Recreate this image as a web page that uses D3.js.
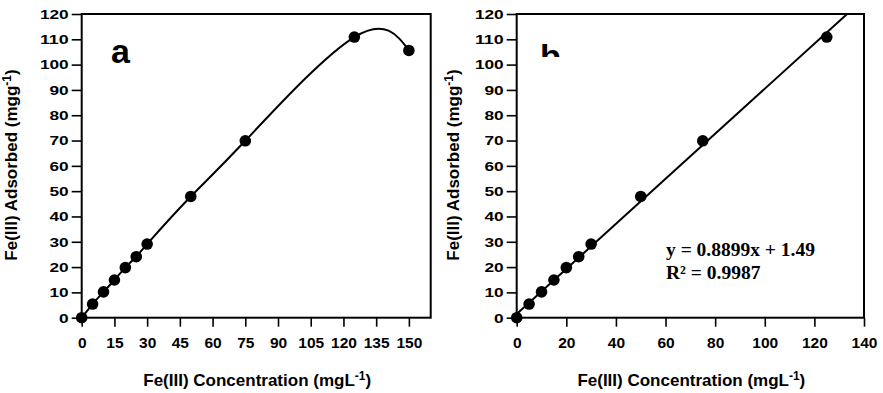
<!DOCTYPE html>
<html>
<head>
<meta charset="utf-8">
<script src="https://cdn.jsdelivr.net/npm/d3@7"></script>
<style>
  body { margin: 0; background: #fff; }
  svg { display: block; font-family: Arial, "Liberation Sans", sans-serif; }
</style>
</head>
<body>
<svg id="chart" width="883" height="393"></svg>
<script>
// data
const conc = [0, 5, 10, 15, 20, 25, 30, 50, 75, 125, 150];
const adsorbed = [0, 5.4, 10.2, 14.9, 19.8, 24.1, 29.1, 47.9, 69.9, 110.9, 105.6];
const concB = [0, 5, 10, 15, 20, 25, 30, 50, 75, 125];
const adsorbedB = [0, 5.4, 10.2, 14.9, 19.8, 24.1, 29.1, 47.9, 69.9, 110.9];
const yTicks = [0, 10, 20, 30, 40, 50, 60, 70, 80, 90, 100, 110, 120];
const xTicksA = [0, 15, 30, 45, 60, 75, 90, 105, 120, 135, 150];
const xTicksB = [0, 20, 40, 60, 80, 100, 120, 140];
const fitSlope = 0.8899, fitIntercept = 1.49;
const fitRange = [0, 133.2];

const svg = d3.select('#chart');

function panel(cfg) {
  let x = d3.scaleLinear().domain(cfg.xDomain).range([cfg.left, cfg.right]);
  let y = d3.scaleLinear().domain([0, 120]).range([317.7, 14]);
  let g = svg.append('g');

  // y axis
  let yAxis = d3.axisLeft(y).tickValues(yTicks).tickSize(10).tickSizeOuter(0).tickPadding(3);
  let yG = g.append('g').attr('transform', `translate(${cfg.left},0)`).call(yAxis);
  yG.selectAll('text')
    .style('font-size', '13.5px').style('font-weight', 'bold').attr('fill', '#000')
    .attr('textLength', d => String(d).length * 9.6)
    .attr('lengthAdjust', 'spacingAndGlyphs');

  // x axis
  let xAxis = d3.axisBottom(x).tickValues(cfg.xTicks).tickSize(9).tickSizeOuter(0).tickPadding(10);
  let xG = g.append('g').attr('transform', 'translate(0,317.7)').call(xAxis);
  xG.selectAll('text').style('font-size', '15.5px').style('font-weight', 'bold').attr('fill', '#000');

  g.selectAll('.domain').remove();
  g.selectAll('.tick line').attr('stroke', '#000').attr('stroke-width', 1.6);

  // frame
  g.append('rect')
    .attr('x', cfg.left).attr('y', 14)
    .attr('width', cfg.right - cfg.left).attr('height', 317.7 - 14)
    .attr('fill', 'none').attr('stroke', '#000').attr('stroke-width', 2);

  // titles
  let xt = g.append('text')
    .attr('x', (cfg.left + cfg.right) / 2 + 1).attr('y', 386)
    .attr('text-anchor', 'middle')
    .style('font-size', '17px').style('font-weight', 'bold');
  xt.append('tspan').text('Fe(III) Concentration (mgL');
  xt.append('tspan').attr('dy', -6).style('font-size', '12px').text('-1');
  xt.append('tspan').attr('dy', 6).text(')');

  let yt = g.append('text')
    .attr('transform', `translate(${cfg.yTitleX},165) rotate(-90)`)
    .attr('text-anchor', 'middle')
    .style('font-size', '17px').style('font-weight', 'bold');
  yt.append('tspan').text('Fe(III) Adsorbed (mgg');
  yt.append('tspan').attr('dy', -6).style('font-size', '12px').text('-1');
  yt.append('tspan').attr('dy', 6).text(')');

  return { g, x, y };
}

// ---- panel a
let a = panel({ left: 81.7, right: 430.7, xDomain: [0, 160], xTicks: xTicksA, yTitleX: 17 });
let ptsA = conc.map((c, i) => [c, adsorbed[i]]);
let curveA = d3.line()
  .x(d => a.x(d[0]))
  .y(d => a.y(d[1]))
  .curve(d3.curveNatural);
a.g.append('path')
  .datum(ptsA)
  .attr('d', curveA)
  .attr('fill', 'none').attr('stroke', '#000').attr('stroke-width', 2);
a.g.selectAll('circle.pt')
  .data(ptsA).join('circle')
  .attr('cx', d => a.x(d[0])).attr('cy', d => a.y(d[1]))
  .attr('r', 5.8).attr('fill', '#000');
a.g.append('text')
  .attr('x', 111).attr('y', 63)
  .style('font-size', '34px').style('font-weight', 'bold')
  .text('a');

// ---- panel b
let b = panel({ left: 516.7, right: 864, xDomain: [0, 140], xTicks: xTicksB, yTitleX: 459 });
let fitLine = d3.line()
  .x(d => b.x(d))
  .y(d => b.y(fitSlope * d + fitIntercept));
b.g.append('path')
  .datum(fitRange)
  .attr('d', fitLine)
  .attr('fill', 'none').attr('stroke', '#000').attr('stroke-width', 2);
b.g.selectAll('circle.pt')
  .data(concB.map((c, i) => [c, adsorbedB[i]])).join('circle')
  .attr('cx', d => b.x(d[0])).attr('cy', d => b.y(d[1]))
  .attr('r', 5.8).attr('fill', '#000');

// the "b" label is cut off at the bottom in the original figure
svg.append('clipPath').attr('id', 'cutB')
  .append('rect').attr('x', 530).attr('y', 20).attr('width', 60).attr('height', 37);
b.g.append('text')
  .attr('x', 540).attr('y', 68)
  .attr('clip-path', 'url(#cutB)')
  .style('font-size', '34px').style('font-weight', 'bold')
  .text('b');

b.g.append('text')
  .attr('x', 666).attr('y', 256)
  .style('font-family', '"Liberation Serif", "Times New Roman", serif')
  .style('font-size', '19.5px').style('font-weight', 'bold')
  .text('y = 0.8899x + 1.49');
b.g.append('text')
  .attr('x', 666).attr('y', 279)
  .style('font-family', '"Liberation Serif", "Times New Roman", serif')
  .style('font-size', '19.5px').style('font-weight', 'bold')
  .text('R² = 0.9987');
</script>
</body>
</html>
